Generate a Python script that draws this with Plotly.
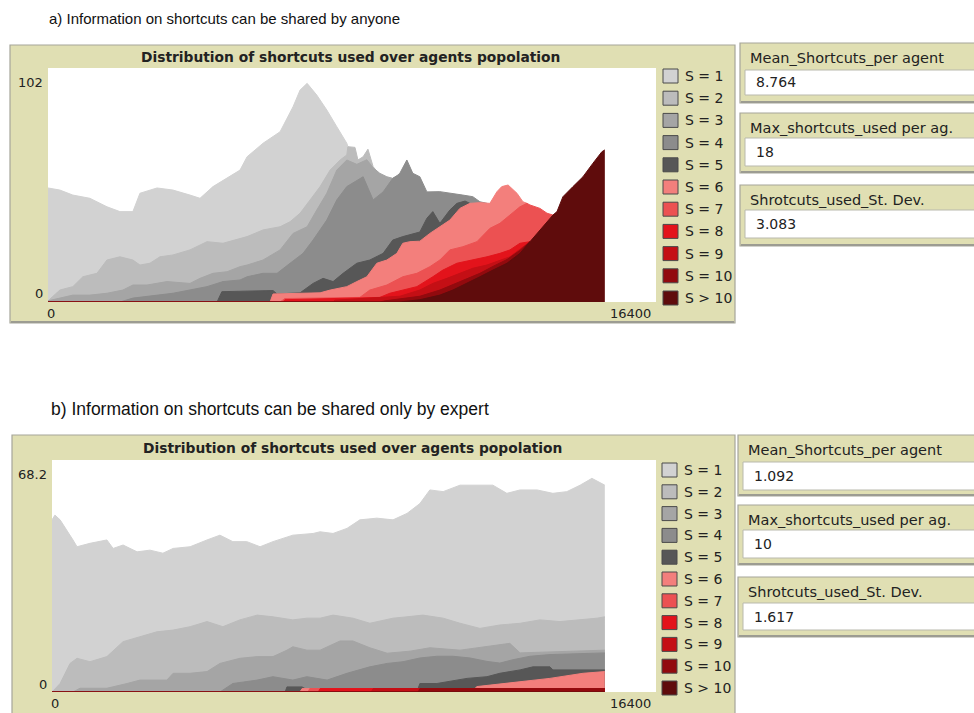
import plotly.graph_objects as go

W, H = 974, 713

# ---------------------------------------------------------------------------
# Pens (legend order) and their colours
SERIES = ["S = 1", "S = 2", "S = 3", "S = 4", "S = 5", "S = 6",
          "S = 7", "S = 8", "S = 9", "S = 10", "S > 10"]
COLORS = ["#d2d2d2", "#bcbcbc", "#a5a5a5", "#8c8c8c", "#575757", "#f37f7c",
          "#ec5152", "#e3131b", "#c40f15", "#920a0e", "#5f0c0c"]

# ---------------------------------------------------------------------------
# Panel a) - agents using at least k shortcuts, per tick
a1_t = [0, 320, 670, 1130, 1590, 1940, 2290, 2480, 2940, 3370, 3830, 4100, 4450,
        4830, 5180, 5370, 5800, 6260, 6610, 6800, 6990, 7250, 7520, 7790, 8060, 8090]
a1_n = [49.7, 48.8, 46.6, 45.2, 41.5, 39.4, 39.4, 47.4, 49.7, 48.8, 46.6, 45.2, 50.3,
        53.9, 57.5, 63.3, 69.2, 74.2, 85.1, 92.4, 95.3, 90.2, 83.7, 76.4, 69.2, 67.7]

a2_t = [0, 320, 670, 940, 1320, 1590, 1940, 2290, 2480, 2750, 3020, 3370, 3830, 4290,
        4720, 5180, 5370, 5800, 6260, 6530, 6800, 7070, 7340, 7610, 7880, 8060, 8090,
        8280, 8360, 8500, 8630, 8770, 8870]
a2_n = [0.5, 5.2, 6.7, 11.0, 12.5, 18.3, 19.7, 18.3, 16.1, 16.9, 19.7, 20.5, 22.7, 26.3,
        25.6, 27.8, 28.5, 31.4, 32.8, 35.0, 38.7, 44.5, 50.3, 57.5, 61.9, 64.1, 67.7,
        67.4, 61.9, 63.3, 66.6, 59.0, 57.0]

a3_t = [0, 670, 1130, 1590, 2020, 2290, 2670, 3210, 3830, 4100, 4450, 4830, 5180, 5370,
        5800, 6260, 6610, 6990, 7250, 7520, 7790, 8060, 8330, 8600, 8770, 8870, 8950,
        9140, 9300, 9410]
a3_n = [0.5, 3.0, 3.0, 3.8, 5.2, 7.4, 7.4, 8.9, 8.1, 10.3, 12.5, 13.2, 15.4, 16.1,
        18.3, 22.7, 29.9, 32.8, 40.1, 47.4, 57.5, 61.9, 60.0, 62.0, 58.5, 57.0, 56.1,
        54.6, 53.9, 55.0]

a4_t = [0, 1940, 2290, 3370, 4290, 4720, 5180, 5370, 5800, 6180, 6530, 6880, 7150, 7520,
        7790, 8060, 8500, 8770, 9040, 9300, 9410, 9490, 9680, 9840, 10030, 10220, 10570,
        10920, 11190, 11460, 11650, 11840]
a4_n = [0, 0, 1.7, 3.8, 6.7, 8.9, 9.6, 11.0, 12.5, 12.5, 16.9, 21.2, 27.0, 35.7,
        44.5, 50.3, 54.6, 44.5, 48.0, 53.9, 55.0, 56.1, 61.9, 56.1, 54.6, 48.0, 48.1,
        47.4, 46.6, 45.9, 43.7, 43.0]

a5_t = [0, 4560, 4690, 6070, 6180, 6800, 7150, 7420, 7690, 7960, 8330, 8680, 9040, 9300,
        9570, 10030, 10220, 10380, 10570, 10840, 11030, 11250, 11380]
a5_n = [0, 0, 4.5, 5.0, 3.5, 4.0, 8.1, 10.3, 8.9, 12.5, 16.9, 18.3, 21.2, 27.0,
        28.5, 30.5, 36.5, 39.4, 34.3, 40.1, 43.0, 44.0, 43.0]

a6_t = [0, 5990, 6070, 7340, 7610, 8060, 8330, 8600, 8870, 9140, 9410, 9570, 9760, 10030,
        10300, 10570, 10840, 11110, 11380, 11650, 11840, 11920, 12110, 12240, 12410,
        12650, 12810, 12920]
a6_n = [0, 0, 3.5, 4.0, 5.2, 6.7, 8.9, 11.0, 16.9, 18.3, 21.2, 25.6, 26.3, 26.5,
        29.9, 32.8, 35.7, 40.8, 43.0, 43.3, 43.0, 43.0, 48.1, 50.3, 51.0,
        47.4, 43.7, 43.0]

a7_t = [0, 6260, 6390, 8410, 8680, 9140, 9570, 9950, 10300, 10570, 10840, 11190, 11570,
        11920, 12190, 12460, 12730, 12920, 13000, 13270, 13460, 13620]
a7_n = [0, 0, 1.5, 2.0, 5.2, 7.4, 11.0, 12.5, 15.4, 18.3, 22.7, 24.1, 26.3,
        32.1, 34.3, 37.9, 41.5, 43.0, 42.3, 40.8, 38.7, 37.9]

a8_t = [0, 6340, 6390, 8950, 9220, 9950, 10380, 10650, 11030, 11460, 11840, 12190, 12460,
        12730, 13000]
a8_n = [0, 0, 1.0, 2.0, 3.8, 6.7, 11.0, 13.9, 16.9, 18.3, 19.7, 21.2, 22.7,
        25.6, 26.3]

a9_t = [0, 7690, 7740, 9490, 10030, 10380, 10760, 11110, 11460, 11840, 12190, 12460,
        12730, 13000]
a9_n = [0, 0, 0.8, 2.5, 5.2, 8.1, 10.3, 12.5, 14.7, 16.1, 18.3, 19.7, 23.0, 26.3]

a10_t = [0, 8950, 9090, 10030, 10570, 11110, 11650, 12000, 12380, 12730, 13000]
a10_n = [0, 0, 0.5, 2.5, 5.2, 8.9, 12.5, 15.5, 18.5, 22.5, 26.3]

a11_t = [0, 9490, 10030, 10570, 10920, 11300, 11650, 12000, 12380, 12730, 13000, 13270,
         13540, 13620, 13730, 13890, 14160, 14430, 14700, 14940, 15020]
a11_n = [0, 0, 1.0, 3.0, 5.2, 8.1, 11.0, 13.9, 16.9, 21.2, 26.3, 31.4,
         36.5, 37.9, 39.4, 45.9, 50.3, 54.6, 60.5, 65.5, 66.3]

# ---------------------------------------------------------------------------
# Panel b) - agents using at least k shortcuts, per tick
b1_t = [0, 80, 220, 410, 570, 680, 1030, 1490, 1660, 1930, 2310, 2660, 3010, 3290, 3750,
        4210, 4560, 4910, 5290, 5650, 6000, 6540, 7090, 7280, 7630, 8010, 8360, 8820,
        9260, 9640, 9990, 10260, 10620, 11080, 11540, 11970, 12350, 12710, 13170,
        13600, 13980, 14340, 14660, 14820, 15010]
b1_n = [50.6, 52.0, 50.6, 47.6, 44.7, 42.7, 43.7, 44.7, 42.2, 43.2, 41.2, 41.7, 40.8,
        42.2, 42.7, 44.7, 46.1, 44.2, 44.2, 42.7, 44.2, 46.1, 46.6, 47.1, 46.6, 48.1,
        50.6, 51.1, 50.6, 52.5, 55.4, 59.4, 58.9, 60.8, 60.8, 60.8, 58.4, 59.4, 59.4,
        58.4, 58.9, 60.8, 62.8, 61.8, 60.8]

b2_t = [0, 220, 490, 680, 1030, 1490, 1930, 2390, 2850, 3290, 3750, 4210, 4640, 5100,
        5570, 6000, 6540, 6920, 7280, 7630, 8170, 8630, 9260, 9640, 10070, 10620, 11080,
        11620, 12160, 12710, 13250, 13790, 14340, 14800, 15010]
b2_n = [0, 2.5, 8.4, 9.9, 8.9, 10.4, 14.8, 16.3, 17.7, 18.2, 19.2, 20.7, 19.2, 21.2,
        22.6, 22.1, 21.2, 21.7, 21.7, 22.6, 21.7, 20.2, 21.7, 22.1, 22.6, 21.7, 20.2,
        18.7, 19.7, 20.2, 21.2, 20.7, 21.2, 21.7, 22.1]

b3_t = [0, 570, 760, 1490, 2040, 2390, 3120, 3290, 3750, 4210, 4560, 5100, 5570, 6000,
        6380, 6540, 6920, 7280, 7820, 8170, 8630, 9100, 9720, 10260, 11080, 12430,
        12710, 13600, 15010]
b3_n = [0, 0, 1.1, 1.1, 2.5, 3.5, 3.5, 5.5, 5.5, 6.0, 8.4, 9.9, 10.4, 10.4,
        12.3, 13.3, 12.3, 12.3, 15.0, 15.0, 13.0, 11.4, 12.0, 13.0, 12.3, 14.3,
        11.5, 11.8, 12.3]

b4_t = [0, 4560, 4910, 5570, 6000, 6540, 6920, 7470, 8010, 8630, 9100, 9530, 9990, 10450,
        10890, 11350, 11810, 12160, 12520, 12980, 13520, 14340, 15010]
b4_n = [0, 0, 2.5, 3.5, 4.5, 3.5, 4.5, 3.5, 5.5, 7.4, 8.4, 8.9, 10.0, 10.5,
        10.5, 10.0, 9.0, 8.5, 9.5, 10.5, 11.0, 11.3, 11.5]

b5_t = [0, 6330, 6380, 6790, 6870, 9940, 9990, 10450, 11270, 11810, 12160, 12710, 13060,
        13520, 13600, 15010]
b5_n = [0, 0, 1.5, 1.5, 1.0, 1.0, 2.5, 2.5, 4.0, 4.5, 5.5, 6.5, 7.4,
        7.4, 6.5, 6.5]

b6_t = [0, 6730, 6790, 11480, 11540, 12240, 13520, 14420, 15010]
b6_n = [0, 0, 1.0, 1.0, 1.6, 2.5, 4.0, 5.5, 6.0]

b7_t = [0, 6950, 7000, 15010]
b7_n = [0, 0, 1.0, 1.0]

b8_t = [0, 7230, 7280, 15010]
b8_n = [0, 0, 1.0, 1.0]

b9_t = [0, 8670, 8720, 15010]
b9_n = [0, 0, 1.0, 1.0]

b10_t = [0, 9940, 9990, 15010]
b10_n = [0, 0, 1.0, 1.0]

b11_t = [0, 15010]
b11_n = [0, 0]

# Axis extents shown as NetLogo min/max labels
X_MAX = 16400
A_Y_MAX = 102
B_Y_MAX = 68.2

# Monitor readings
A_MONITORS = [("Mean_Shortcuts_per agent", "8.764"),
              ("Max_shortcuts_used per ag.", "18"),
              ("Shrotcuts_used_St. Dev.", "3.083")]
B_MONITORS = [("Mean_Shortcuts_per agent", "1.092"),
              ("Max_shortcuts_used per ag.", "10"),
              ("Shrotcuts_used_St. Dev.", "1.617")]

PLOT_TITLE = "Distribution of shortcuts used over agents popolation"
A_HEADING = "a) Information on shortcuts can be shared by anyone"
B_HEADING = "b) Information on shortcuts can be shared only by expert"

A_PENS = [(a1_t, a1_n), (a2_t, a2_n), (a3_t, a3_n), (a4_t, a4_n), (a5_t, a5_n),
          (a6_t, a6_n), (a7_t, a7_n), (a8_t, a8_n), (a9_t, a9_n), (a10_t, a10_n),
          (a11_t, a11_n)]
B_PENS = [(b1_t, b1_n), (b2_t, b2_n), (b3_t, b3_n), (b4_t, b4_n), (b5_t, b5_n),
          (b6_t, b6_n), (b7_t, b7_n), (b8_t, b8_n), (b9_t, b9_n), (b10_t, b10_n),
          (b11_t, b11_n)]

# ---------------------------------------------------------------------------
BEIGE = "#e0dfb3"
EDGE = "#a6a69a"
FONT = "DejaVu Sans"


def fx(px):
    return px / W


def fy(py):
    return 1 - py / H


def rect(x0, y0, x1, y1, fill, line=None, width=0):
    return dict(type="rect", xref="paper", yref="paper", layer="below",
                x0=fx(x0), x1=fx(x1), y0=fy(y1), y1=fy(y0),
                fillcolor=fill, line=dict(color=line or fill, width=width))


def text(x, y, s, size=13, anchor="left", bold=False, family=FONT, color="#222"):
    return dict(xref="paper", yref="paper", x=fx(x), y=fy(y), text=s,
                showarrow=False, xanchor=anchor, yanchor="middle",
                font=dict(family=family, size=size, color=color,
                          weight="bold" if bold else "normal"))


fig = go.Figure()
shapes, notes = [], []

panels = [
    # pens, axis suffix, frame, plot area, legend x / y0 / step, y max, monitors, heading
    dict(pens=A_PENS, ax="", frame=(10, 45, 735, 323), area=(48, 68, 656, 302),
         leg=(663, 76, 22.2), ymax=A_Y_MAX, mons=A_MONITORS,
         mon_frames=[(740, 43, 103), (740, 113, 173), (740, 185, 246)],
         mon_boxes=[(70, 95), (138, 166), (210, 238)],
         heading=(47, 19, A_HEADING, 15), title_y=57),
    dict(pens=B_PENS, ax="2", frame=(12, 435, 735, 722), area=(52, 460, 656, 692),
         leg=(662, 470, 21.8), ymax=B_Y_MAX, mons=B_MONITORS,
         mon_frames=[(738, 435, 496), (738, 505, 565), (738, 577, 637)],
         mon_boxes=[(462, 490), (530, 558), (603, 630)],
         heading=(49, 409, B_HEADING, 17.5), title_y=448),
]

for p in panels:
    fx0, fy0, fx1, fy1 = p["frame"]
    ax0, ay0, ax1, ay1 = p["area"]
    xa, ya = "x" + p["ax"], "y" + p["ax"]

    # widget frame and white plotting area
    shapes.append(rect(fx0, fy0, fx1, fy1, BEIGE, EDGE, 1.2))
    shapes.append(rect(fx0 + 1, fy1 - 2, fx1 - 1, fy1, "#9c9c92"))
    shapes.append(rect(ax0, ay0, ax1, ay1, "white"))

    # pens painted from S = 1 upwards, each one over the previous
    for name, color, (t, n) in zip(SERIES, COLORS, p["pens"]):
        fig.add_trace(go.Scatter(
            x=t, y=n, name=name, mode="lines", fill="tozeroy",
            fillcolor=color, line=dict(color=color, width=1),
            xaxis=xa, yaxis=ya, showlegend=False, hoverinfo="skip"))

    # frame title and min / max labels
    notes.append(text((ax0 + ax1) / 2 - 2, p["title_y"], PLOT_TITLE, 13.8, "center", True))
    ymax_label = ("%g" % p["ymax"])
    notes.append(text(ax0 - 3, ay0 + 14, ymax_label, 13, "right"))
    notes.append(text(ax0 - 3, ay1 - 8, "0", 13, "right"))
    notes.append(text(ax0 - 3, ay1 + 11, "0", 13, "left"))
    notes.append(text(ax1 - 3, ay1 + 11, str(X_MAX), 13, "right"))

    # legend column
    lx, ly0, step = p["leg"]
    for i, (name, color) in enumerate(zip(SERIES, COLORS)):
        cy = ly0 + i * step
        shapes.append(rect(lx, cy - 7, lx + 15, cy + 7, color, "#4a4a4a", 1))
        notes.append(text(lx + 20, cy, name, 14, "left"))

    # monitors
    for (label, value), (mx, my0, my1), (by0, by1) in zip(
            p["mons"], p["mon_frames"], p["mon_boxes"]):
        shapes.append(rect(mx, my0, 990, my1, BEIGE, EDGE, 1.2))
        shapes.append(rect(mx + 1, my1 - 2, 990, my1, "#9c9c92"))
        shapes.append(rect(mx + 5, by0, 990, by1, "white", "#b9b9ad", 1))
        notes.append(text(mx + 8, my0 + 15, label, 14.5, "left"))
        notes.append(text(mx + 14, (by0 + by1) / 2, value, 14, "left"))

    hx, hy, htxt, hsize = p["heading"]
    notes.append(text(hx, hy, htxt, hsize, "left", family="Liberation Sans", color="#111"))

    fig.layout["xaxis" + p["ax"]] = dict(
        domain=[fx(ax0), fx(ax1)], range=[0, X_MAX], visible=False,
        anchor=ya, fixedrange=True)
    fig.layout["yaxis" + p["ax"]] = dict(
        domain=[fy(ay1), fy(ay0)], range=[0, p["ymax"]], visible=False,
        anchor=xa, fixedrange=True)

fig.update_layout(
    width=W, height=H, autosize=False,
    margin=dict(l=0, r=0, t=0, b=0),
    paper_bgcolor="white", plot_bgcolor="rgba(0,0,0,0)",
    shapes=shapes, annotations=notes, showlegend=False,
)

fig.write_html("out.html", config={"displayModeBar": False})
